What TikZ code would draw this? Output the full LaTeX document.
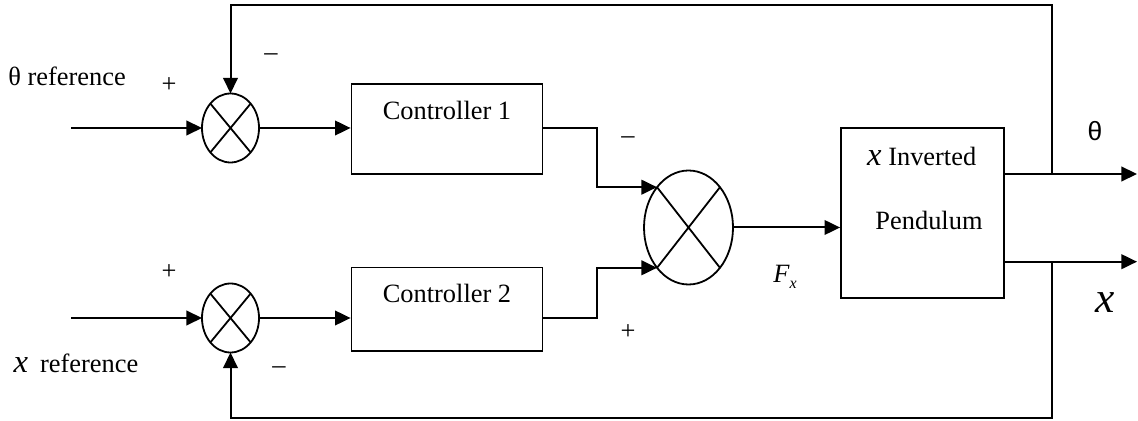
\documentclass[tikz,border=0pt]{standalone}
\usepackage{fontspec}
\setmainfont{Liberation Serif}
\newfontfamily\thsans{Liberation Sans}
\usepackage{tikz}
\usetikzlibrary{arrows.meta,positioning,shapes.geometric,calc}

\newcommand{\bigx}[1]{{\fontsize{#1}{#1}\selectfont\itshape x}}

\begin{document}
\begin{tikzpicture}[x=0.5pt,y=-0.5pt,font=\fontsize{13.2}{16}\selectfont,
box/.style={draw,line width=0.9pt,inner sep=0pt,minimum width=95.5pt,text height=17.7pt},
sumj/.style={draw,ellipse,line width=0.9pt,inner sep=0pt,outer sep=0pt,minimum width=28.5pt,minimum height=34.5pt},
arr/.style={line width=1pt,-{Triangle[length=7.8pt,width=7.3pt]}},
fb/.style={line width=1pt}]
\useasboundingbox (0,0) rectangle (1138,421);
% summing junctions
\node[sumj](s1) at (230.5,128){};
\node[sumj](s2) at (230.5,318){};
\node[sumj,minimum width=44.5pt,minimum height=57pt](s3) at (688.5,227.5){};
\foreach \s in {s1,s2,s3}
  \draw[line width=0.9pt] (\s.north west)--(\s.south east) (\s.north east)--(\s.south west);
% blocks
\node[box,text depth=27.5pt,anchor=base](c1) at (447,119.4){Controller 1};
\node[box,text depth=24pt,anchor=base](c2) at (447,303){Controller 2};
\node[draw,line width=0.9pt,inner sep=0pt,minimum width=81.5pt,minimum height=85.3pt](pl) at (922.5,213){};
\node(plt) at (921.7,156){\bigx{16.3} Inverted};
\node(plb) at (929,220){Pendulum};
% free ends
\coordinate(inth) at (71,128);
\coordinate(inx) at (71,318);
\coordinate(oth) at (1137,174);
\coordinate(ox) at (1137,261.7);
\coordinate(fbt) at (1052,174);
\coordinate(fbx) at (1052,261.7);
\coordinate(ftop) at (230.5,5);
\coordinate(fbot) at (230.5,417.7);
% forward paths
\draw[arr](inth)--(s1.west);
\draw[arr](inx)--(s2.west);
\draw[arr](s1.east)--(s1.east -| c1.west);
\draw[arr](s2.east)--(s2.east -| c2.west);
\draw[arr](s1 -| c1.east)--++(54,0)|-(s3.north west);
\draw[arr](s2 -| c2.east)--++(54,0)|-(s3.south west);
\draw[arr](s3.east)--(s3.east -| pl.west);
\draw[arr](fbt -| pl.east)--(oth);
\draw[arr](fbx -| pl.east)--(ox);
% feedback
\draw[arr](fbt)|-(ftop)--(s1.north);
\draw[arr](fbx)|-(fbot)--(s2.south);
% labels
\node(lth) at (67,76.7){θ reference};
\node(lx) at (76,363){\bigx{16.3}\hspace{6pt}reference};
\node(p1) at (169,85){+};
\node(m1) at (271,57){--};
\node(p2) at (169,271.7){+};
\node(m2) at (279,370){--};
\node(m3) at (628,140){--};
\node(p3) at (628,332){+};
\node(lf) at (785,277){{\itshape F}\raisebox{-3pt}{\fontsize{8}{8}\selectfont\itshape x}};
\node(lot) at (1095,131){\thsans θ};
\node(lox) at (1105,303){\bigx{21.7}};
\end{tikzpicture}
\end{document}
